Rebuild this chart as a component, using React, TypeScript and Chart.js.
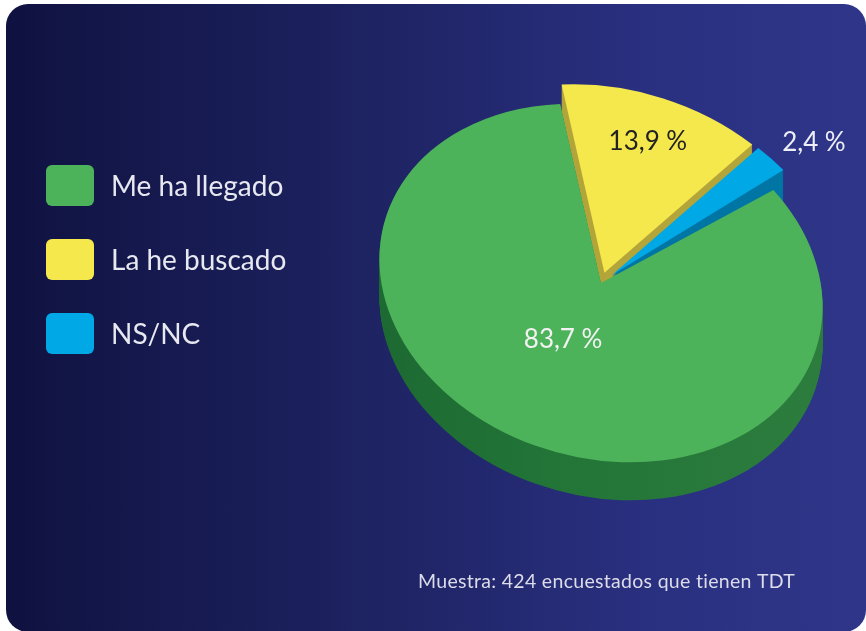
import React, { useEffect, useRef } from "react";
import { Chart, registerables } from "chart.js";

Chart.register(...registerables);

// ---- data ----
const categories = ["Me ha llegado", "La he buscado", "NS/NC"];
const values = [83.7, 13.9, 2.4];
const footnote = "Muestra: 424 encuestados que tienen TDT";

// ---- styles ----
const topColors = ["#4db35a", "#f5e84c", "#00a8e6"];
const sideColors = ["#1f6d34", "#b3a53a", "#0076a5"];
const labelColors = ["#f2f2f2", "#222222", "#eeeef6"];
const explode = [0, 14, 16];
const explodeScale = [1, 1.05, 1.04];
const insetStart = [3, 0, 0]; // degrees trimmed (gap)
const insetEnd = [0, 0, 0];
const labelRadius = [0.38, 0.85, 1.33];
const labelTurn = [8, 0, 2.5]; // degrees

const TILT = (16 * Math.PI) / 180;
const SQUASH = 0.778;
const DEPTH = 38;
const FONT = "Lato, 'Open Sans', sans-serif";
const DEG = Math.PI / 180;

function fmt(v: number) {
  return v.toFixed(1).replace(".", ",") + " %";
}

const pie3d = {
  id: "pie3d",
  beforeDatasetsDraw(chart: any) {
    const ctx: CanvasRenderingContext2D = chart.ctx;
    const meta = chart.getDatasetMeta(0);
    const arcs = meta.data;
    if (!arcs.length) return false;
    const geo = arcs.map((el: any) =>
      el.getProps(["x", "y", "startAngle", "endAngle", "outerRadius"], true)
    );
    const order = geo
      .map((_: any, i: number) => i)
      .sort(
        (a: number, b: number) =>
          Math.sin((geo[a].startAngle + geo[a].endAngle) / 2) -
          Math.sin((geo[b].startAngle + geo[b].endAngle) / 2)
      );
    for (const i of order) {
      const a = geo[i];
      const mid = (a.startAngle + a.endAngle) / 2;
      const ox = Math.cos(mid) * explode[i];
      const oy = Math.sin(mid) * explode[i];
      const s = explodeScale[i];
      const st = a.startAngle + insetStart[i] * DEG;
      const en = a.endAngle - insetEnd[i] * DEG;
      const setup = (d: number) => {
        ctx.translate(0, d);
        ctx.translate(a.x, a.y);
        ctx.rotate(TILT);
        ctx.scale(1, SQUASH);
        ctx.translate(ox, oy);
        ctx.scale(s, s);
        ctx.translate(-a.x, -a.y);
      };
      const path = () => {
        ctx.beginPath();
        ctx.moveTo(a.x, a.y);
        ctx.arc(a.x, a.y, a.outerRadius, st, en);
        ctx.closePath();
      };
      for (let d = DEPTH; d >= 1; d--) {
        ctx.save();
        setup(d);
        if (i === 0) {
          const g = ctx.createLinearGradient(a.x - a.outerRadius, 0, a.x + a.outerRadius, 0);
          g.addColorStop(0, "#1c6932");
          g.addColorStop(0.5, "#227437");
          g.addColorStop(1, "#2b7c3d");
          ctx.fillStyle = g;
        } else {
          ctx.fillStyle = sideColors[i];
        }
        path();
        ctx.fill();
        ctx.restore();
      }
      ctx.save();
      setup(0);
      ctx.fillStyle = topColors[i];
      path();
      ctx.fill();
      ctx.restore();
    }
    return false;
  },
  afterDraw(chart: any) {
    const ctx: CanvasRenderingContext2D = chart.ctx;
    const meta = chart.getDatasetMeta(0);
    const arcs = meta.data;
    ctx.save();
    // slice labels
    ctx.textAlign = "center";
    ctx.textBaseline = "middle";
    ctx.font = `26px ${FONT}`;
    arcs.forEach((el: any, i: number) => {
      const a = el.getProps(["x", "y", "startAngle", "endAngle", "outerRadius"], true);
      const mid = (a.startAngle + a.endAngle) / 2 + labelTurn[i] * DEG;
      const r = labelRadius[i] * a.outerRadius;
      const px = Math.cos(mid) * r;
      const py = Math.sin(mid) * r * SQUASH;
      const sx = a.x + px * Math.cos(TILT) - py * Math.sin(TILT);
      const sy = a.y + px * Math.sin(TILT) + py * Math.cos(TILT);
      ctx.fillStyle = labelColors[i];
      ctx.fillText(fmt(values[i]), sx, sy);
    });
    // legend
    const legendTop = 165;
    const legendGap = 74;
    categories.forEach((c, i) => {
      const y = legendTop + i * legendGap;
      ctx.fillStyle = topColors[i];
      ctx.beginPath();
      (ctx as any).roundRect(46, y, 48, 41, 6);
      ctx.fill();
      ctx.fillStyle = "#e8e8f0";
      ctx.textAlign = "left";
      ctx.textBaseline = "middle";
      ctx.font = `28px ${FONT}`;
      ctx.fillText(c, 111, y + 22);
    });
    // footnote
    ctx.fillStyle = "#dcdcea";
    ctx.font = `19.5px ${FONT}`;
    (ctx as any).letterSpacing = "0.3px";
    ctx.textAlign = "left";
    ctx.textBaseline = "middle";
    ctx.fillText(footnote, 418, 582);
    ctx.restore();
  },
};

export default function App() {
  const ref = useRef<HTMLCanvasElement | null>(null);
  useEffect(() => {
    if (!ref.current) return;
    const chart = new Chart(ref.current, {
      type: "pie",
      data: {
        labels: categories,
        datasets: [
          {
            data: values,
            backgroundColor: topColors,
            borderWidth: 0,
            hoverBorderWidth: 0,
            offset: 0,
            hoverOffset: 0,
          } as any,
        ],
      },
      options: {
        responsive: false,
        animation: false,
        devicePixelRatio: 1,
        rotation: 35.5,
        events: [],
        layout: { padding: { left: 376, right: 40, top: 58, bottom: 123 } },
        plugins: { legend: { display: false }, tooltip: { enabled: false } },
      } as any,
      plugins: [pie3d as any],
    });
    return () => chart.destroy();
  }, []);
  return (
    <div
      style={{
        position: "fixed",
        left: 0,
        top: 0,
        width: 866,
        height: 631,
        overflow: "hidden",
        background: "#ffffff",
      }}
    >
      <div
        style={{
          position: "absolute",
          left: 6,
          top: 4,
          width: 860,
          height: 628,
          borderRadius: 22,
          background: "linear-gradient(90deg, #0f1240 0%, #1d2260 40%, #2a3080 75%, #2f3689 100%)",
        }}
      />
      <canvas
        ref={ref}
        width={866}
        height={631}
        style={{ position: "absolute", left: 0, top: 0, width: 866, height: 631 }}
      />
    </div>
  );
}
